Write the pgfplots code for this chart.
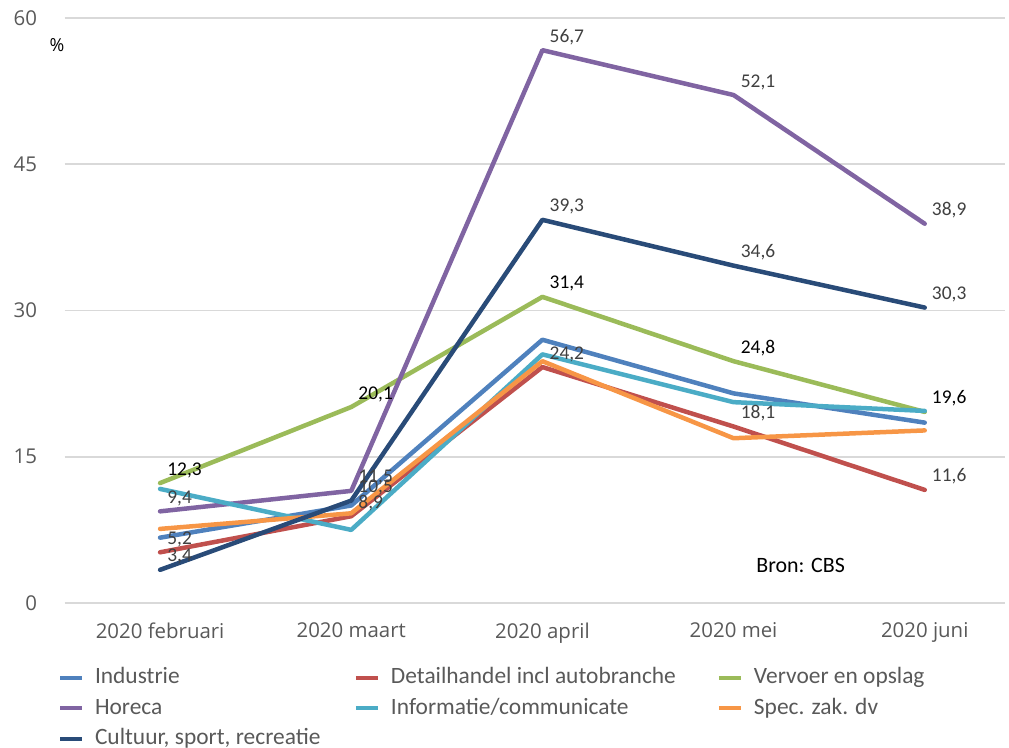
\documentclass[border=0pt]{standalone}
\usepackage{fontspec}
\setmainfont{Carlito}
\newfontfamily\osans{Open Sans}
\usepackage{pgfplots}
\pgfplotsset{compat=1.18}
\definecolor{cInd}{HTML}{4F81BD}
\definecolor{cDet}{HTML}{C0504D}
\definecolor{cVer}{HTML}{9BBB59}
\definecolor{cHor}{HTML}{8064A2}
\definecolor{cInf}{HTML}{4BACC6}
\definecolor{cSpe}{HTML}{F79646}
\definecolor{cCul}{HTML}{294B78}
\definecolor{gridc}{HTML}{D9D9D9}
\definecolor{tickc}{HTML}{595959}
\definecolor{labc}{HTML}{404040}
\begin{document}
\begin{tikzpicture}
\begin{axis}[
 scale only axis, width=940.5bp, height=585bp,
 xmin=-0.5, xmax=4.42, ymin=0, ymax=60,
 xtick={0,1,2,3,4},
 xticklabels={2020 februari, 2020 maart, 2020 april, 2020 mei, 2020 juni},
 ytick={0,15,30,45,60},
 ymajorgrids, grid style={color=gridc, line width=1.5bp},
 axis line style={draw=none}, major tick style={draw=none},
 tick label style={font=\osans\fontsize{20.5}{24}\selectfont, text=tickc},
 /pgf/number format/assume math mode=true,
 yticklabel style={xshift=-24bp},
 xticklabel style={yshift=-16bp},
 clip=false,
 legend columns=3,
 legend cell align=left,
 legend style={at={(0,0)}, anchor=north west, xshift=-6.5bp, yshift=-64.5bp,
   draw=none, fill=none, inner sep=0pt, outer sep=0pt, row sep=9.5bp,
   font=\fontsize{23.5}{28}\selectfont, text=tickc,
   nodes={inner sep=0pt, text height=16bp, text depth=5bp, anchor=base west},
   /tikz/every odd column/.style={column sep=11bp}},
 legend image code/.code={\draw[#1, line width=4bp, line cap=butt] (0bp,6bp) -- (22bp,6bp);},
 every axis plot/.append style={line width=4.5bp, line join=round, line cap=round, mark=none},
 lab/.style={nodes near coords={\pgfmathprintnumber[assume math mode=true, use comma, fixed, fixed zerofill, precision=1]{\pgfplotspointmeta}},
   every node near coord/.append style={anchor=base west, xshift=5bp, yshift=8bp, font=\fontsize{19.5}{22}\selectfont, text=labc, inner sep=0pt}},
]
\addplot[cInd] coordinates {(0,6.7) (1,10.0) (2,27.0) (3,21.5) (4,18.5)};
\addlegendentry{\makebox[259bp][l]{Industrie}}
\addplot[cDet, lab] coordinates {(0,5.2) (1,8.9) (2,24.2) (3,18.1) (4,11.6)};
\addlegendentry{\makebox[326bp][l]{Detailhandel incl autobranche}}
\addplot[cVer, lab, every node near coord/.append style={text=black}] coordinates {(0,12.3) (1,20.1) (2,31.4) (3,24.8) (4,19.6)};
\addlegendentry{Vervoer en opslag}
\addplot[cHor, lab] coordinates {(0,9.4) (1,11.5) (2,56.7) (3,52.1) (4,38.9)};
\addlegendentry{\makebox[259bp][l]{Horeca}}
\addplot[cInf] coordinates {(0,11.7) (1,7.5) (2,25.5) (3,20.6) (4,19.7)};
\addlegendentry{\makebox[326bp][l]{Informatie/communicate}}
\addplot[cSpe] coordinates {(0,7.6) (1,9.2) (2,24.8) (3,16.9) (4,17.7)};
\addlegendentry{Spec. zak. dv}
\addplot[cCul, lab] coordinates {(0,3.4) (1,10.5) (2,39.3) (3,34.6) (4,30.3)};
\addlegendentry{\makebox[259bp][l]{Cultuur, sport, recreatie}}
\node[font=\osans\fontsize{18}{20}\selectfont, text=black] at (axis cs:-0.539,57.2) {\%};
\node[anchor=base, font=\fontsize{22}{26}\selectfont, text=black] at (axis cs:3.351,3.08) {Bron: CBS};
\coordinate (bl) at (rel axis cs:0,0);
\end{axis}
\pgfresetboundingbox
\path[use as bounding box] (bl) ++(-64.5bp,-145bp) rectangle ++(1009bp,748bp);
\end{tikzpicture}
\end{document}
